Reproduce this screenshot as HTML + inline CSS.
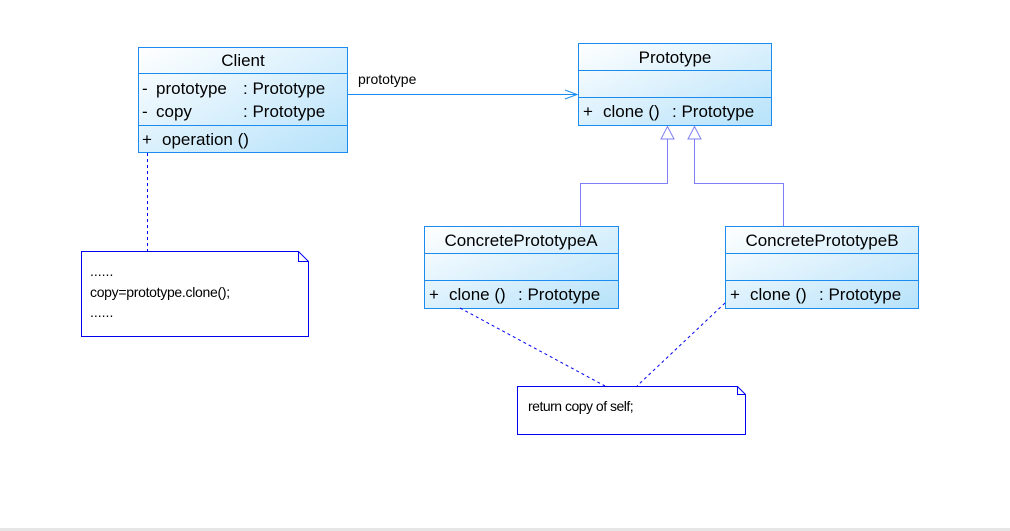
<!DOCTYPE html>
<html><head><meta charset="utf-8"><style>
html,body{margin:0;padding:0;background:#fff;}
svg{display:block;font-family:"Liberation Sans",Arial,sans-serif;}
text{white-space:pre;}
</style></head><body>
<svg width="1010" height="531" viewBox="0 0 1010 531" xmlns="http://www.w3.org/2000/svg">
<defs>
<linearGradient id="g" x1="0" y1="0" x2="1" y2="1">
<stop offset="0" stop-color="#ffffff"/><stop offset="1" stop-color="#b6e2fa"/>
</linearGradient>
</defs>
<rect x="0" y="528" width="1010" height="3" fill="#e6e6e6"/>
<!-- Client -->
<rect x="138.5" y="47.5" width="209" height="105" fill="url(#g)" stroke="#1a8cf0"/>
<line x1="138" y1="73.5" x2="348" y2="73.5" stroke="#1a8cf0"/>
<line x1="138" y1="125.5" x2="348" y2="125.5" stroke="#1a8cf0"/>
<g font-size="17" fill="#000">
<text x="243" y="66" text-anchor="middle">Client</text>
<text x="142" y="94">-</text><text x="156" y="94">prototype</text><text x="243" y="94">: Prototype</text>
<text x="142" y="117">-</text><text x="156" y="117">copy</text><text x="243" y="117">: Prototype</text>
<text x="142" y="145">+</text><text x="162" y="145">operation ()</text>
</g>
<!-- Prototype -->
<rect x="578.5" y="43.5" width="193" height="82" fill="url(#g)" stroke="#1a8cf0"/>
<line x1="578" y1="70.5" x2="772" y2="70.5" stroke="#1a8cf0"/>
<line x1="578" y1="97.5" x2="772" y2="97.5" stroke="#1a8cf0"/>
<g font-size="17" fill="#000">
<text x="675" y="63" text-anchor="middle">Prototype</text>
<text x="583" y="117">+</text><text x="603" y="117">clone ()</text><text x="672" y="117">: Prototype</text>
</g>
<!-- Association -->
<line x1="348" y1="94.5" x2="577" y2="94.5" stroke="#1a8cf0"/>
<polyline points="565,90 577,94.5 565,99" fill="none" stroke="#1a8cf0"/>
<text x="358" y="84" font-size="14">prototype</text>
<!-- Concrete A -->
<rect x="424.5" y="226.5" width="194" height="82" fill="url(#g)" stroke="#1a8cf0"/>
<line x1="424" y1="253.5" x2="619" y2="253.5" stroke="#1a8cf0"/>
<line x1="424" y1="280.5" x2="619" y2="280.5" stroke="#1a8cf0"/>
<g font-size="17" fill="#000">
<text x="521" y="246" text-anchor="middle">ConcretePrototypeA</text>
<text x="429" y="300">+</text><text x="449" y="300">clone ()</text><text x="518" y="300">: Prototype</text>
</g>
<!-- Concrete B -->
<rect x="725.5" y="226.5" width="193" height="82" fill="url(#g)" stroke="#1a8cf0"/>
<line x1="725" y1="253.5" x2="919" y2="253.5" stroke="#1a8cf0"/>
<line x1="725" y1="280.5" x2="919" y2="280.5" stroke="#1a8cf0"/>
<g font-size="17" fill="#000">
<text x="822" y="246" text-anchor="middle">ConcretePrototypeB</text>
<text x="730" y="300">+</text><text x="750" y="300">clone ()</text><text x="819" y="300">: Prototype</text>
</g>
<!-- Generalization -->
<g stroke="#7f7ff5" fill="none">
<polyline points="667.5,139 667.5,183.5 580.5,183.5 580.5,226"/>
<polyline points="694.5,139 694.5,183.5 783.5,183.5 783.5,226"/>
<polygon points="667.5,126.5 661,139 674,139" fill="#fff"/>
<polygon points="694.5,126.5 688,139 701,139" fill="#fff"/>
</g>
<!-- Note 1 -->
<line x1="147.5" y1="153" x2="147.5" y2="251" stroke="#0000ff" stroke-dasharray="3,3"/>
<path d="M81.5,251.5 H298.5 L308.5,261.5 V336.5 H81.5 Z" fill="#fff" stroke="#0000ee"/>
<polyline points="298.5,251.5 298.5,261.5 308.5,261.5" fill="none" stroke="#0000ee"/>
<g font-size="14" fill="#000">
<text x="90" y="276">......</text>
<text x="90" y="297" letter-spacing="-0.3">copy=prototype.clone();</text>
<text x="90" y="317">......</text>
</g>
<!-- Note 2 -->
<line x1="460" y1="308" x2="605" y2="386" stroke="#0000ee" stroke-dasharray="3,3"/>
<line x1="725" y1="303" x2="637" y2="386" stroke="#0000ee" stroke-dasharray="3,3"/>
<path d="M517.5,386.5 H737.5 L745.5,394.5 V434.5 H517.5 Z" fill="#fff" stroke="#0000ee"/>
<polyline points="737.5,386.5 737.5,394.5 745.5,394.5" fill="none" stroke="#0000ee"/>
<text x="528" y="411" font-size="14" letter-spacing="-0.5">return copy of self;</text>
</svg>
</body></html>
